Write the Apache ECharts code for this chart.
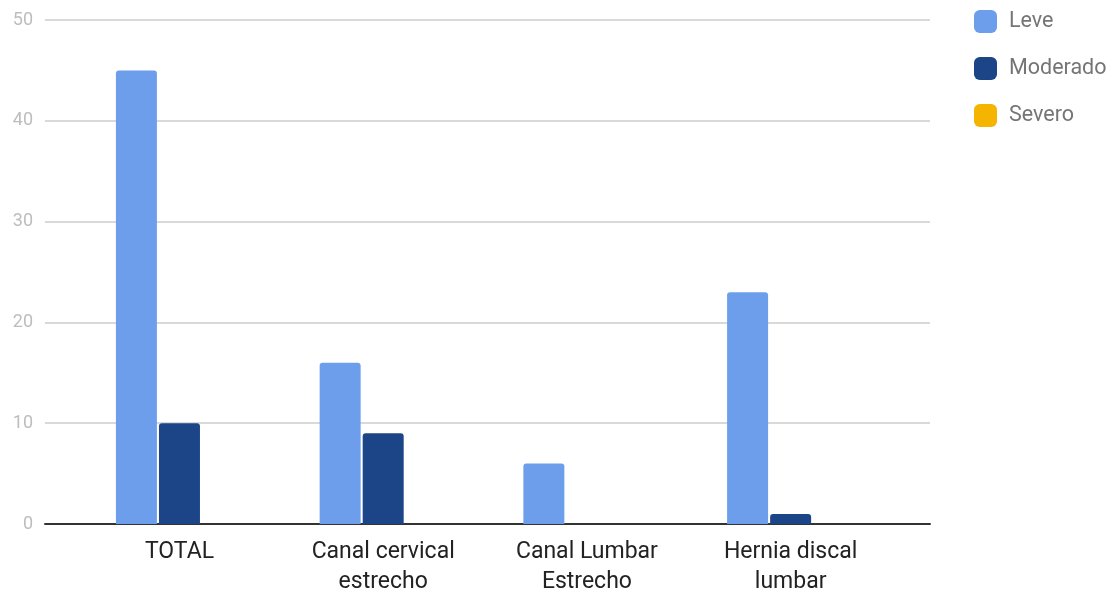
<!DOCTYPE html>
<html>
<head>
<meta charset="utf-8">
<script src="https://cdn.jsdelivr.net/npm/echarts@6/dist/echarts.min.js"></script>
<style>
  html, body { margin: 0; padding: 0; background: #fff; }
  #chart { width: 1114px; height: 596px; }
</style>
</head>
<body>
<div id="chart"></div>
<script>
// datos del grafico
var categorias = ['TOTAL', 'Canal cervical\nestrecho', 'Canal Lumbar\nEstrecho', 'Hernia discal\nlumbar'];
var leve = [45, 16, 6, 23];
var moderado = [10, 9, 0, 1];
var severo = [0, 0, 0, 0];
var yTicks = [0, 10, 20, 30, 40, 50];

var chart = echarts.init(document.getElementById('chart'));

function serie(nombre, datos, color) {
	return {
		name: nombre,
		type: 'bar',
		xAxisIndex: 1,
		yAxisIndex: 1,
		barWidth: 41,
		barGap: '5%',
		data: datos,
		itemStyle: { color: color, borderRadius: [3, 3, 0, 0] }
	};
}

var option = {
	animation: false,
	textStyle: { fontFamily: 'Roboto' },
	legend: {
		orient: 'vertical',
		left: 969,
		top: 5,
		itemWidth: 23,
		itemHeight: 23,
		itemGap: 24,
		icon: 'roundRect',
		textStyle: { fontSize: 21.5, color: '#757575', padding: [0, 0, 0, 7] },
		data: ['Leve', 'Moderado', 'Severo']
	},
	grid: [
		// lineas de fondo y eje
		{ left: 45, right: 184, top: 20, bottom: 72, outerBoundsMode: 'none' },
		// barras
		{ left: 77.6, right: 221.5, top: 20, bottom: 72, outerBoundsMode: 'none' }
	],
	xAxis: [{
		gridIndex: 0,
		type: 'value',
		min: 0,
		max: 1,
		axisLabel: { show: false },
		axisTick: { show: false },
		splitLine: { show: false },
		axisLine: { show: true, lineStyle: { color: '#333', width: 2 } }
	}, {
		gridIndex: 1,
		type: 'category',
		data: categorias,
		axisLine: { show: false },
		axisTick: { show: false },
		axisLabel: {
			interval: 0,
			margin: 13,
			fontSize: 23,
			lineHeight: 30,
			color: '#222'
		}
	}],
	yAxis: [{
		gridIndex: 0,
		type: 'value',
		min: yTicks[0],
		max: yTicks[yTicks.length - 1],
		interval: 10,
		axisLine: { show: false },
		axisTick: { show: false },
		axisLabel: { fontSize: 18, color: '#bdbdbd', margin: 12 },
		splitLine: { lineStyle: { color: '#cccccc', width: 1.5 } }
	}, {
		gridIndex: 1,
		type: 'value',
		min: 0,
		max: 50,
		interval: 10,
		show: false,
		splitLine: { show: false }
	}],
	series: [
		serie('Leve', leve, '#6d9eeb'),
		serie('Moderado', moderado, '#1c4587'),
		serie('Severo', severo, '#f4b400')
	]
};

chart.setOption(option);
</script>
</body>
</html>
